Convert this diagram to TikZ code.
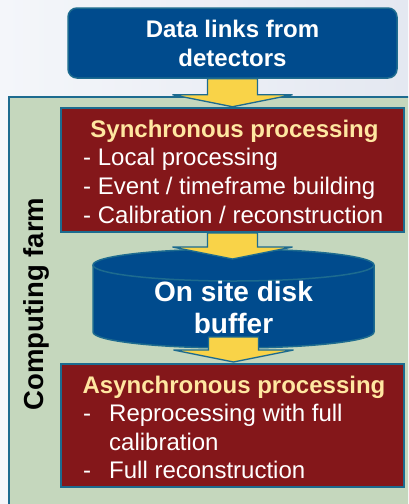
\documentclass[tikz,border=0pt]{standalone}
\usepackage{fontspec}
\setmainfont{Liberation Sans}
\usetikzlibrary{calc}

\definecolor{bgleft}{HTML}{F4F6FA}
\definecolor{bgright}{HTML}{E4E8F1}
\definecolor{farmgreen}{HTML}{C5D7BD}
\definecolor{edgeblue}{HTML}{1D6B8F}
\definecolor{boxblue}{HTML}{004B8D}
\definecolor{boxred}{HTML}{84171A}
\definecolor{arrowyellow}{HTML}{F9D348}
\definecolor{titleyellow}{HTML}{FFE7A1}

\tikzset{
  bluebox/.style={draw=edgeblue, line width=1.5pt, fill=boxblue, rounded corners=9pt, inner sep=0pt},
  redbox/.style={draw=edgeblue, line width=2pt, fill=boxred, inner sep=0pt},
  farmframe/.style={draw=edgeblue, line width=1.6pt, fill=farmgreen},
  flowarrow/.style={draw=edgeblue, line width=1.3pt, fill=arrowyellow, line join=miter},
  bigtext/.style={text=white, font=\fontsize{24}{29}\selectfont\bfseries, inner sep=0pt, anchor=base},
  disktext/.style={text=white, font=\fontsize{28}{33}\selectfont\bfseries, inner sep=0pt, anchor=base},
  boxtitle/.style={text=titleyellow, font=\fontsize{24}{29}\selectfont\bfseries, inner sep=0pt, anchor=base},
  itemtext/.style={text=white, font=\fontsize{24}{29}\selectfont, inner sep=0pt, anchor=base west},
  sidelabel/.style={text=black, font=\fontsize{27.5}{32}\selectfont\bfseries, inner sep=0pt, anchor=base, rotate=90},
  pics/flow/.style 2 args={code={
    \draw[flowarrow] (-25,0) -- (-25,#1) -- (-60,#1) -- (0,#1+#2) -- (60,#1) -- (25,#1) -- (25,0) -- cycle;
  }}
}

\begin{document}
\begin{tikzpicture}[x=1pt, y=-1pt]
\useasboundingbox (0,0) rectangle (408,504);
\clip (0,0) rectangle (408,504);

% page background
\shade[left color=bgleft, right color=bgright] (0,0) rectangle (408,504);

% computing farm frame (runs off the right and bottom edges)
\draw[farmframe] (9,97) rectangle (430,530);
\node[sidelabel] (farmlabel) at (43,304) {Computing farm};

% data links box
\node[bluebox, minimum width=329pt, minimum height=70pt] (links) at (232.5,43) {};
\node[bigtext] (links1) at (232.5,37) {Data links from};
\node[bigtext] (links2) at (232.5,66) {detectors};

% synchronous processing box
\node[redbox, minimum width=343pt, minimum height=124pt] (sync) at (232.5,170) {};
\node[boxtitle] (synctitle) at (234.5,137) {Synchronous processing};
\node[itemtext] (sync1) at (83,165) {- Local processing};
\node[itemtext] (sync2) at (83,194) {- Event / timeframe building};
\node[itemtext] (sync3) at (83,223) {- Calibration / reconstruction};

% on-site disk buffer (cylinder)
\fill[boxblue] (93,265) -- (93,332) arc[start angle=180, end angle=0, x radius=140.5, y radius=16]
  -- (374,265) arc[start angle=0, end angle=-180, x radius=140.5, y radius=16] -- cycle;
\draw[edgeblue, line width=1.5pt] (93,265) -- (93,332) arc[start angle=180, end angle=0, x radius=140.5, y radius=16]
  -- (374,265);
\draw[edgeblue, line width=1.5pt, fill=boxblue] (233.5,265) ellipse[x radius=140.5, y radius=16];
\coordinate (disk) at (233.5,298);
\coordinate (diskout) at (233.5,337);
\node[disktext] (disk1) at (233.5,301) {On site disk};
\node[disktext] (disk2) at (233.5,333) {buffer};

% asynchronous processing box
\node[redbox, minimum width=343pt, minimum height=123pt] (async) at (232.5,425.5) {};
\node[boxtitle] (asynctitle) at (234,393) {Asynchronous processing};
\node[itemtext] (adash1) at (83,421) {-};
\node[itemtext] (async1) at (109,421) {Reprocessing with full};
\node[itemtext] (async1b) at (109,450) {calibration};
\node[itemtext] (adash2) at (83,478) {-};
\node[itemtext] (async2) at (109,478) {Full reconstruction};

% flow arrows
\pic at (links.south) {flow={16}{12}};
\pic at (sync.south) {flow={14}{12}};
\pic at (diskout) {flow={13}{12}};
\end{tikzpicture}
\end{document}
